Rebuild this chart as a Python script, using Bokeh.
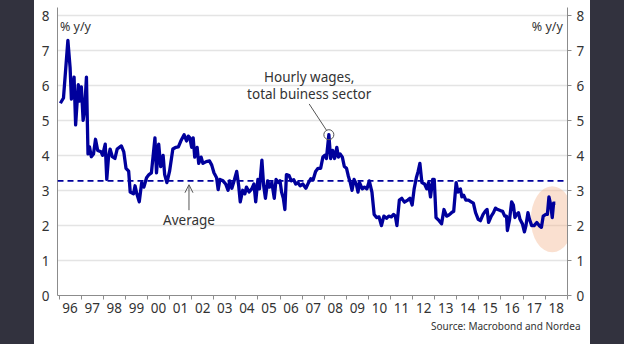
from bokeh.plotting import figure
from bokeh.models import FixedTicker, LinearAxis, Label, Arrow, OpenHead, Span, Div, Range1d, Title
from bokeh.layouts import row
from bokeh.embed import file_html
from bokeh.resources import INLINE

# ---- data ----
years = [
    1996.06, 1996.20, 1996.40, 1996.50, 1996.56, 1996.68, 1996.75, 1996.87, 1996.94, 1997.01,
    1997.09, 1997.16, 1997.24, 1997.31, 1997.38, 1997.46, 1997.56, 1997.65, 1997.75, 1997.90,
    1997.97, 1998.09, 1998.16, 1998.24, 1998.31, 1998.41, 1998.53, 1998.63, 1998.82, 1998.93,
    1999.03, 1999.15, 1999.22, 1999.37, 1999.44, 1999.52, 1999.63, 1999.74, 1999.84, 1999.96,
    2000.07, 2000.18, 2000.34, 2000.41, 2000.51, 2000.60, 2000.71, 2000.78, 2000.88, 2001.00,
    2001.15, 2001.29, 2001.40, 2001.51, 2001.66, 2001.77, 2001.85, 2001.92, 2002.00, 2002.07,
    2002.14, 2002.25, 2002.32, 2002.43, 2002.51, 2002.66, 2002.81, 2002.91, 2003.01, 2003.13,
    2003.20, 2003.28, 2003.42, 2003.54, 2003.65, 2003.72, 2003.82, 2003.94, 2004.04, 2004.13,
    2004.20, 2004.31, 2004.41, 2004.48, 2004.60, 2004.72, 2004.82, 2004.90, 2005.00, 2005.07,
    2005.18, 2005.26, 2005.34, 2005.44, 2005.53, 2005.63, 2005.74, 2005.82, 2005.93, 2006.00,
    2006.07, 2006.15, 2006.22, 2006.29, 2006.41, 2006.51, 2006.62, 2006.71, 2006.81, 2006.91,
    2007.03, 2007.17, 2007.29, 2007.39, 2007.50, 2007.61, 2007.72, 2007.84, 2007.94, 2008.03,
    2008.10, 2008.21, 2008.29, 2008.38, 2008.47, 2008.57, 2008.64, 2008.72, 2008.82, 2008.91,
    2009.01, 2009.09, 2009.18, 2009.26, 2009.35, 2009.45, 2009.53, 2009.60, 2009.72, 2009.82,
    2009.93, 2010.04, 2010.16, 2010.26, 2010.37, 2010.48, 2010.59, 2010.70, 2010.82, 2010.92,
    2011.04, 2011.14, 2011.22, 2011.29, 2011.40, 2011.51, 2011.63, 2011.78, 2011.88, 2011.98,
    2012.07, 2012.17, 2012.25, 2012.33, 2012.42, 2012.54, 2012.64, 2012.72, 2012.81, 2012.91,
    2012.98, 2013.06, 2013.20, 2013.31, 2013.42, 2013.54, 2013.64, 2013.76, 2013.86, 2013.97,
    2014.05, 2014.16, 2014.23, 2014.31, 2014.41, 2014.53, 2014.65, 2014.75, 2014.85, 2014.97,
    2015.07, 2015.19, 2015.29, 2015.37, 2015.44, 2015.56, 2015.66, 2015.75, 2015.85, 2015.97,
    2016.07, 2016.17, 2016.25, 2016.29, 2016.39, 2016.48, 2016.56, 2016.63, 2016.71, 2016.79,
    2016.86, 2016.97, 2017.06, 2017.13, 2017.22, 2017.29, 2017.39, 2017.50, 2017.62, 2017.73,
    2017.83, 2017.91, 2018.03, 2018.10, 2018.17, 2018.25, 2018.32, 2018.38, 2018.46,
]
wages = [
    5.50, 5.65, 7.30, 6.52, 5.62, 6.25, 4.88, 6.03, 5.56, 5.97,
    5.01, 5.34, 6.25, 4.05, 4.25, 3.97, 4.05, 4.47, 4.15, 4.11,
    4.01, 4.33, 3.32, 3.97, 4.19, 3.97, 3.92, 4.19, 4.28, 4.11,
    3.64, 3.56, 2.96, 2.91, 3.14, 2.91, 2.68, 3.23, 3.10, 3.37,
    3.46, 3.51, 4.51, 3.51, 4.33, 3.69, 4.01, 3.46, 3.23, 3.55,
    4.19, 4.24, 4.25, 4.42, 4.60, 4.42, 4.56, 4.51, 4.24, 4.51,
    3.96, 4.24, 3.78, 3.96, 3.78, 3.83, 3.85, 3.73, 3.51, 3.37,
    3.03, 3.32, 3.28, 3.19, 3.01, 3.28, 3.07, 3.32, 3.55, 3.14,
    2.68, 3.01, 2.91, 3.10, 2.96, 3.05, 3.19, 2.68, 3.32, 3.05,
    3.87, 3.14, 2.78, 3.28, 3.10, 3.23, 2.78, 3.32, 3.23, 3.28,
    2.96, 2.78, 2.46, 3.46, 3.43, 3.28, 3.31, 3.19, 3.23, 3.14,
    3.19, 3.07, 3.23, 3.34, 3.31, 3.55, 3.64, 3.64, 3.96, 4.01,
    3.92, 4.60, 3.92, 4.15, 3.92, 4.24, 3.96, 4.05, 3.96, 3.69,
    3.64, 3.42, 3.23, 3.01, 3.32, 3.19, 2.96, 3.23, 3.05, 3.10,
    3.05, 3.28, 2.96, 2.32, 2.23, 2.25, 2.00, 2.27, 2.21, 2.27,
    2.25, 2.32, 2.27, 2.00, 2.73, 2.78, 2.67, 2.73, 2.78, 2.59,
    3.05, 3.37, 3.55, 3.78, 3.23, 3.19, 3.05, 3.23, 2.82, 3.32,
    3.32, 2.23, 2.14, 2.05, 2.46, 2.27, 2.30, 2.37, 2.41, 3.23,
    2.96, 3.05, 2.82, 2.87, 2.73, 2.73, 2.68, 2.64, 2.37, 2.18,
    2.14, 2.32, 2.41, 2.46, 2.09, 2.27, 2.37, 2.50, 2.46, 2.43,
    2.41, 2.27, 2.27, 1.86, 2.18, 2.68, 2.59, 2.23, 2.32, 2.37,
    2.18, 2.05, 1.82, 2.00, 2.37, 2.18, 2.00, 2.00, 2.09, 2.00,
    1.95, 2.27, 2.32, 2.32, 2.82, 2.59, 2.23, 2.64, 2.64,
]
average = 3.28
year_starts = list(range(1996, 2020))
tick_labels = ["96", "97", "98", "99", "00", "01", "02", "03", "04", "05", "06", "07",
               "08", "09", "10", "11", "12", "13", "14", "15", "16", "17", "18"]
y_ticks = [0, 1, 2, 3, 4, 5, 6, 7, 8]

# highlight ellipse around the latest readings
hl_x, hl_y, hl_w, hl_h = 2018.32, 2.18, 1.94, 1.89

FONT = "Noto Sans"
TXT = "#333333"
BLUE = "#00009c"
AX = "#8c8c8c"
FS = "13.5px"

p = figure(width=556, height=344, x_range=Range1d(1995.93, 2019.01), y_range=Range1d(0, 8.24),
           output_backend="svg", toolbar_location=None,
           min_border_left=23, min_border_right=23, min_border_top=7, min_border_bottom=49)
p.outline_line_color = None
p.background_fill_color = "white"
p.border_fill_color = "white"

# x axis: minor ticks at year boundaries, labels in mid-year
label_pos = [y + 0.5 for y in year_starts[:-1]]
p.xaxis.ticker = FixedTicker(ticks=label_pos, minor_ticks=year_starts)
p.xaxis.major_label_overrides = {pos: lab for pos, lab in zip(label_pos, tick_labels)}
p.xaxis.major_tick_out = 0
p.xaxis.major_tick_in = 0
p.xaxis.minor_tick_out = 4
p.xaxis.minor_tick_in = 0
p.xaxis.minor_tick_line_color = AX
p.xaxis.axis_line_color = AX
p.xaxis.major_label_standoff = 3
p.xaxis.major_label_text_font = FONT
p.xaxis.major_label_text_font_size = FS
p.xaxis.major_label_text_color = TXT
p.xgrid.visible = False

p.yaxis.ticker = FixedTicker(ticks=y_ticks)
p.yaxis.major_tick_out = 0
p.yaxis.major_tick_in = 0
p.yaxis.minor_tick_out = 0
p.yaxis.minor_tick_in = 0
p.yaxis.axis_line_color = AX
p.yaxis.major_label_standoff = 8
p.yaxis.major_label_text_font = FONT
p.yaxis.major_label_text_font_size = FS
p.yaxis.major_label_text_color = TXT
p.ygrid.ticker = FixedTicker(ticks=y_ticks)
p.ygrid.grid_line_color = "#e4e4e4"
p.ygrid.grid_line_width = 1.5

ry = LinearAxis(ticker=FixedTicker(ticks=y_ticks))
ry.major_tick_out = 4
ry.major_tick_in = 0
ry.minor_tick_out = 0
ry.minor_tick_in = 0
ry.major_tick_line_color = AX
ry.axis_line_color = AX
ry.major_label_standoff = 5
ry.major_label_text_font = FONT
ry.major_label_text_font_size = FS
ry.major_label_text_color = TXT
p.add_layout(ry, "right")

# source note
p.add_layout(Title(text="Source: Macrobond and Nordea", align="right", offset=-13,
                   standoff=2, text_font=FONT, text_font_size="10px",
                   text_font_style="normal", text_color=TXT), "below")

# highlight ellipse
p.ellipse(x=[hl_x], y=[hl_y], width=hl_w, height=hl_h, fill_color="#f2b68e",
          fill_alpha=0.42, line_color=None)

# average line
p.add_layout(Span(location=average, dimension="width", line_color=BLUE,
                  line_width=1.8, line_dash="6 4"))

# main series
p.line(years, wages, line_color=BLUE, line_width=3.3, line_join="round")

# peak marker
late = [i for i, yv in enumerate(years) if yv > 2005]
ipk = max(late, key=lambda i: wages[i])
p.scatter([years[ipk]], [wages[ipk]], size=10, marker="circle", fill_color=None,
          line_color="#555555", line_width=1)
p.segment(x0=[2007.32], y0=[5.48], x1=[years[ipk] - 0.1], y1=[wages[ipk] + 0.12],
          line_color="#555555", line_width=1)

p.add_layout(Label(x=2007.32, y=6.25, text="Hourly wages,", text_font=FONT,
                   text_font_size=FS, text_color=TXT, text_align="center",
                   text_baseline="middle"))
p.add_layout(Label(x=2007.32, y=5.76, text="total buiness sector", text_font=FONT,
                   text_font_size=FS, text_color=TXT, text_align="center",
                   text_baseline="middle"))

# average annotation
p.add_layout(Arrow(end=OpenHead(size=8, line_color="#555555", line_width=1),
                   x_start=2001.88, y_start=2.44, x_end=2001.88, y_end=3.17,
                   line_color="#555555", line_width=1))
p.add_layout(Label(x=2001.88, y=2.15, text="Average", text_font=FONT,
                   text_font_size=FS, text_color=TXT, text_align="center",
                   text_baseline="middle"))

# unit labels
p.add_layout(Label(x=1996.04, y=7.70, text="% y/y", text_font=FONT, text_font_size="12.5px",
                   text_color=TXT, text_align="left", text_baseline="middle"))
p.add_layout(Label(x=2018.8, y=7.70, text="% y/y", text_font=FONT, text_font_size="12.5px",
                   text_color=TXT, text_align="right", text_baseline="middle"))

left = Div(width=34, height=344, margin=0, styles={"background-color": "#32323e"})
right = Div(width=34, height=344, margin=0, styles={"background-color": "#32323e"})
layout = row(left, p, right, spacing=0)

open("out.html", "w").write(file_html(layout, INLINE))
